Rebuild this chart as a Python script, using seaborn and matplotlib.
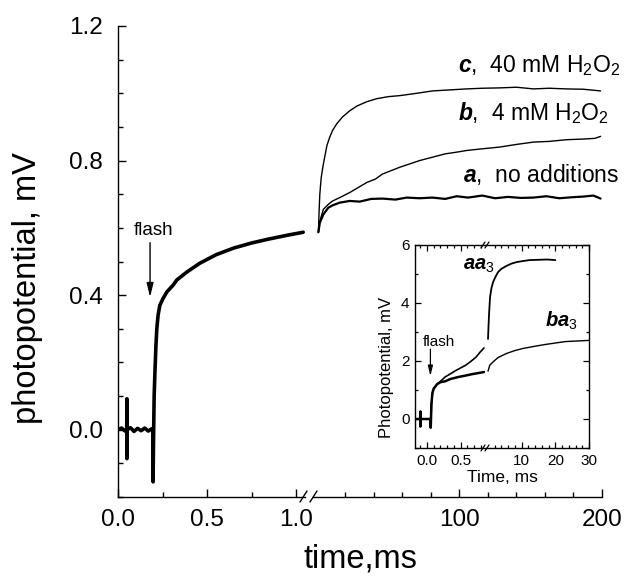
import numpy as np
import pandas as pd
import matplotlib
matplotlib.use("Agg")
import matplotlib.pyplot as plt
from matplotlib.lines import Line2D
from matplotlib.ticker import MultipleLocator, FixedLocator
import seaborn as sns

# ---------------- data ----------------
# main panel, early part (0 - 1.05 ms)
t_early = [0.0, 0.02, 0.04, 0.049, 0.05, 0.05, 0.051, 0.07, 0.09, 0.11, 0.13, 0.15,
           0.17, 0.19, 0.196, 0.197, 0.199, 0.203, 0.208, 0.213, 0.218, 0.225, 0.235,
           0.253, 0.275, 0.31, 0.33, 0.39, 0.46, 0.55, 0.65, 0.75, 0.84, 0.95, 1.04]
v_early = [0.0, 0.005, -0.004, 0.0, 0.092, -0.086, 0.0, 0.006, -0.005, 0.004, -0.003, 0.005,
           -0.004, 0.003, 0.0, -0.155, -0.05, 0.1, 0.18, 0.25, 0.3, 0.34, 0.37,
           0.39, 0.41, 0.43, 0.445, 0.47, 0.495, 0.52, 0.54, 0.555, 0.566, 0.578, 0.587]

# main panel, late part (ms)
t_a = [1, 2, 4.5, 8, 11, 16, 23, 30, 38, 46, 55, 63, 72, 81, 90, 98, 106, 116, 125,
       134, 143, 152, 161, 170, 179, 187, 194, 199]
v_a = [0.587, 0.615, 0.64, 0.66, 0.667, 0.675, 0.68, 0.678, 0.686, 0.687, 0.684, 0.69,
       0.688, 0.69, 0.686, 0.694, 0.69, 0.696, 0.688, 0.692, 0.689, 0.69, 0.694, 0.688,
       0.691, 0.693, 0.696, 0.687]
t_b = [1, 2, 4.5, 8, 11, 16, 23, 29, 35, 41, 46, 52, 58, 65, 72, 81, 90, 98, 105, 116,
       128, 140, 152, 163, 175, 187, 195, 199]
v_b = [0.587, 0.62, 0.655, 0.67, 0.68, 0.69, 0.705, 0.72, 0.735, 0.745, 0.76, 0.77, 0.78,
       0.79, 0.80, 0.81, 0.82, 0.825, 0.83, 0.835, 0.84, 0.848, 0.855, 0.857, 0.862,
       0.864, 0.866, 0.872]
t_c = [1, 1.5, 2, 3, 4.5, 7, 9, 11, 14, 18, 23, 28, 35, 42, 50, 58, 70, 81, 93, 105,
       116, 128, 140, 152, 163, 175, 187, 199]
v_c = [0.587, 0.65, 0.7, 0.75, 0.79, 0.845, 0.87, 0.89, 0.91, 0.93, 0.948, 0.962, 0.975,
       0.984, 0.99, 0.993, 1.0, 1.007, 1.01, 1.013, 1.015, 1.016, 1.018, 1.013, 1.015,
       1.013, 1.012, 1.007]

labels_main = [r"$\mathbfit{c}$,  40 mM H$_2$O$_2$",
               r"$\mathbfit{b}$,  4 mM H$_2$O$_2$",
               r"$\mathbfit{a}$,  no additions"]

# inset, early part (ms)
ti_aa_early = [-0.18, -0.1, -0.1, -0.1, -0.1, 0.05, 0.055, 0.065, 0.08, 0.1, 0.15, 0.2,
               0.27, 0.35, 0.42, 0.5, 0.58, 0.65, 0.73, 0.79, 0.85]
vi_aa_early = [0.0, 0.0, 0.25, -0.25, 0.0, 0.0, -0.3, 0.5, 0.9, 1.05, 1.2, 1.3,
               1.45, 1.56, 1.66, 1.76, 1.86, 1.98, 2.13, 2.3, 2.45]
ti_ba_early = [-0.18, -0.1, -0.1, -0.1, -0.1, 0.05, 0.055, 0.065, 0.08, 0.1, 0.15, 0.2,
               0.27, 0.35, 0.47, 0.58, 0.68, 0.78, 0.85]
vi_ba_early = [0.0, 0.0, 0.25, -0.25, 0.0, 0.0, -0.3, 0.5, 0.9, 1.05, 1.2, 1.27,
               1.3, 1.38, 1.45, 1.5, 1.55, 1.59, 1.62]
# inset, late part (ms)
ti_aa_late = [0, 0.15, 0.3, 0.6, 1.0, 1.5, 2.2, 3, 4, 5.5, 7, 8.5, 10.5, 12.4, 15, 17.5, 20]
vi_aa_late = [2.76, 3.2, 3.6, 4.2, 4.5, 4.72, 4.9, 5.07, 5.18, 5.28, 5.36, 5.41, 5.45,
              5.48, 5.49, 5.5, 5.48]
ti_ba_late = [0, 0.5, 1.5, 3, 5.5, 8, 10.3, 13.5, 17, 20, 23, 26.5, 30]
vi_ba_late = [1.65, 1.85, 1.97, 2.12, 2.26, 2.36, 2.43, 2.5, 2.57, 2.62, 2.67, 2.69, 2.71]

# ---------------- style ----------------
sns.set_theme(style="ticks")
plt.rcParams["font.family"] = ["Liberation Sans", "DejaVu Sans"]
plt.rcParams["mathtext.fontset"] = "custom"
plt.rcParams["mathtext.rm"] = "Liberation Sans"
plt.rcParams["mathtext.it"] = "Liberation Sans:italic"
plt.rcParams["mathtext.bf"] = "Liberation Sans:bold"
plt.rcParams["mathtext.bfit"] = "Liberation Sans:bold:italic"
plt.rcParams["xtick.direction"] = "in"
plt.rcParams["ytick.direction"] = "in"
plt.rcParams["axes.linewidth"] = 1.0
for key in ("text.color", "axes.labelcolor", "xtick.color", "ytick.color",
            "axes.edgecolor", "xtick.labelcolor", "ytick.labelcolor"):
    plt.rcParams[key] = "black"

W, H = 628, 580
fig = plt.figure(figsize=(W / 100, H / 100), dpi=100)


def rect(x0, y0, x1, y1):
    return [x0 / W, 1 - y1 / H, (x1 - x0) / W, (y1 - y0) / H]


def fp(x, y):
    return x / W, 1 - y / H


K = "black"

# ---------------- main axes ----------------
ax1 = fig.add_axes(rect(118, 26, 305, 497))
ax2 = fig.add_axes(rect(313.4, 26, 602, 497), sharey=ax1)
for ax in (ax1, ax2):
    ax.set_facecolor("none")

sns.lineplot(x=t_early, y=v_early, ax=ax1, sort=False, estimator=None, color=K, lw=2.6)
sns.lineplot(x=t_a, y=v_a, ax=ax2, sort=False, estimator=None, color=K, lw=1.6)
sns.lineplot(x=t_b, y=v_b, ax=ax2, sort=False, estimator=None, color=K, lw=1.0)
sns.lineplot(x=t_c, y=v_c, ax=ax2, sort=False, estimator=None, color=K, lw=1.0)

ax1.set_xlim(0, 1.05)
ax2.set_xlim(-2.5, 200)
ax1.set_ylim(-0.2, 1.2)

for s in ("top", "right"):
    ax1.spines[s].set_visible(False)
for s in ("top", "right", "left"):
    ax2.spines[s].set_visible(False)

ax1.yaxis.set_major_locator(MultipleLocator(0.4))
ax1.yaxis.set_minor_locator(MultipleLocator(0.1))
ax1.yaxis.set_major_formatter(plt.FuncFormatter(lambda v, p: f"{v:.1f}"))
ax1.xaxis.set_major_locator(FixedLocator([0.0, 0.5, 1.0]))
ax1.xaxis.set_minor_locator(FixedLocator([0.25, 0.75]))
ax1.xaxis.set_major_formatter(plt.FuncFormatter(lambda v, p: f"{v:.1f}"))
ax2.xaxis.set_major_locator(FixedLocator([100, 200]))
ax2.xaxis.set_minor_locator(FixedLocator([20, 40, 60, 80, 120, 140, 160, 180]))
ax2.tick_params(axis="y", which="both", left=False, labelleft=False)

for ax in (ax1, ax2):
    ax.tick_params(which="major", length=6, width=1, labelsize=17.5, colors=K)
    ax.tick_params(which="minor", length=3.5, width=1, colors=K)
    ax.tick_params(axis="x", pad=9)
    ax.tick_params(axis="y", pad=11)

ax1.set_ylabel("photopotential, mV", fontsize=23.5, va="center", color=K)
ax1.yaxis.set_label_coords(*fp(28, 288), transform=fig.transFigure)
ax1.set_xlabel("")
ax2.set_xlabel("time,ms", fontsize=23.5, va="center", color=K)
ax2.xaxis.set_label_coords(*fp(360, 559), transform=fig.transFigure)
ax2.set_ylabel("")

# break marks on main x axis
for x0 in (300, 310):
    fig.add_artist(Line2D([x0 / W, (x0 + 7) / W], [1 - 502 / H, 1 - 491 / H],
                          color=K, lw=1.0, transform=fig.transFigure))

# curve labels
label_pos = [(458, 72), (458, 120), (463, 182)]
for txt, (x, y) in zip(labels_main, label_pos):
    fig.text(*fp(x, y), txt, fontsize=16.5, ha="left", va="baseline", color=K)

# flash annotation (main)
ax1.text(0.197, 0.578, "flash", fontsize=13.5, ha="center", va="baseline", color=K)
ax1.annotate("", xy=(0.18, 0.394), xytext=(0.18, 0.556),
             arrowprops=dict(arrowstyle="-|>,head_length=0.7,head_width=0.17",
                             color=K, lw=1.0, shrinkA=0, shrinkB=0))

# ---------------- inset ----------------
ia1 = fig.add_axes(rect(415, 245, 486, 448))
ia2 = fig.add_axes(rect(486, 245, 589, 448), sharey=ia1)
for ax in (ia1, ia2):
    ax.set_facecolor("white")

sns.lineplot(x=ti_aa_early, y=vi_aa_early, ax=ia1, sort=False, estimator=None, color=K, lw=1.2)
sns.lineplot(x=ti_ba_early, y=vi_ba_early, ax=ia1, sort=False, estimator=None, color=K, lw=1.8)
sns.lineplot(x=ti_aa_late, y=vi_aa_late, ax=ia2, sort=False, estimator=None, color=K, lw=1.3)
sns.lineplot(x=ti_ba_late, y=vi_ba_late, ax=ia2, sort=False, estimator=None, color=K, lw=1.0)

ia1.set_xlim(-0.18, 0.88)
ia2.set_xlim(-0.6, 30)
ia1.set_ylim(-1, 6)
ia1.spines["right"].set_visible(False)
ia2.spines["left"].set_visible(False)

ia1.yaxis.set_major_locator(MultipleLocator(2))
ia1.yaxis.set_minor_locator(MultipleLocator(1))
ia1.xaxis.set_major_locator(FixedLocator([0.0, 0.5]))
ia1.xaxis.set_minor_locator(FixedLocator([-0.1, 0.1, 0.2, 0.3, 0.4, 0.6, 0.7, 0.8]))
ia1.xaxis.set_major_formatter(plt.FuncFormatter(lambda v, p: f"{v:.1f}"))
ia2.xaxis.set_major_locator(FixedLocator([10, 20, 30]))
ia2.xaxis.set_minor_locator(FixedLocator([2, 4, 6, 8, 12, 14, 16, 18, 22, 24, 26, 28]))

ia1.tick_params(axis="y", which="both", left=True, right=False)
ia2.tick_params(axis="y", which="both", left=False, labelleft=False, right=True)
for ax in (ia1, ia2):
    ax.tick_params(axis="x", which="both", top=True, bottom=True)
    ax.tick_params(which="major", length=4, width=0.9, labelsize=11, pad=4, colors=K)
    ax.tick_params(which="minor", length=2.5, width=0.9, colors=K)
    ax.set_xlabel("")
    ax.set_ylabel("")

ia1.set_ylabel("Photopotential, mV", fontsize=12, va="center", color=K)
ia1.yaxis.set_label_coords(*fp(386, 367), transform=fig.transFigure)
ia2.set_xlabel("Time, ms", fontsize=12.5, va="center", color=K)
ia2.xaxis.set_label_coords(*fp(502, 478), transform=fig.transFigure)

# inset break marks (top and bottom)
for yb in (448, 245):
    for x0 in (481, 485):
        fig.add_artist(Line2D([x0 / W, (x0 + 4) / W], [1 - (yb + 3) / H, 1 - (yb - 3) / H],
                              color=K, lw=0.9, transform=fig.transFigure))

ia1.text(0.17, 2.52, "flash", fontsize=11, ha="center", va="baseline", color=K)
ia1.annotate("", xy=(0.05, 1.48), xytext=(0.05, 2.41),
             arrowprops=dict(arrowstyle="-|>,head_length=0.5,head_width=0.12",
                             color=K, lw=0.9, shrinkA=0, shrinkB=0))

fig.text(*fp(463, 270), r"$\mathbfit{aa}_{3}$", fontsize=14.5, ha="left", va="baseline", color=K)
fig.text(*fp(545, 327), r"$\mathbfit{ba}_{3}$", fontsize=14.5, ha="left", va="baseline", color=K)

fig.savefig("out.png", dpi=100)
